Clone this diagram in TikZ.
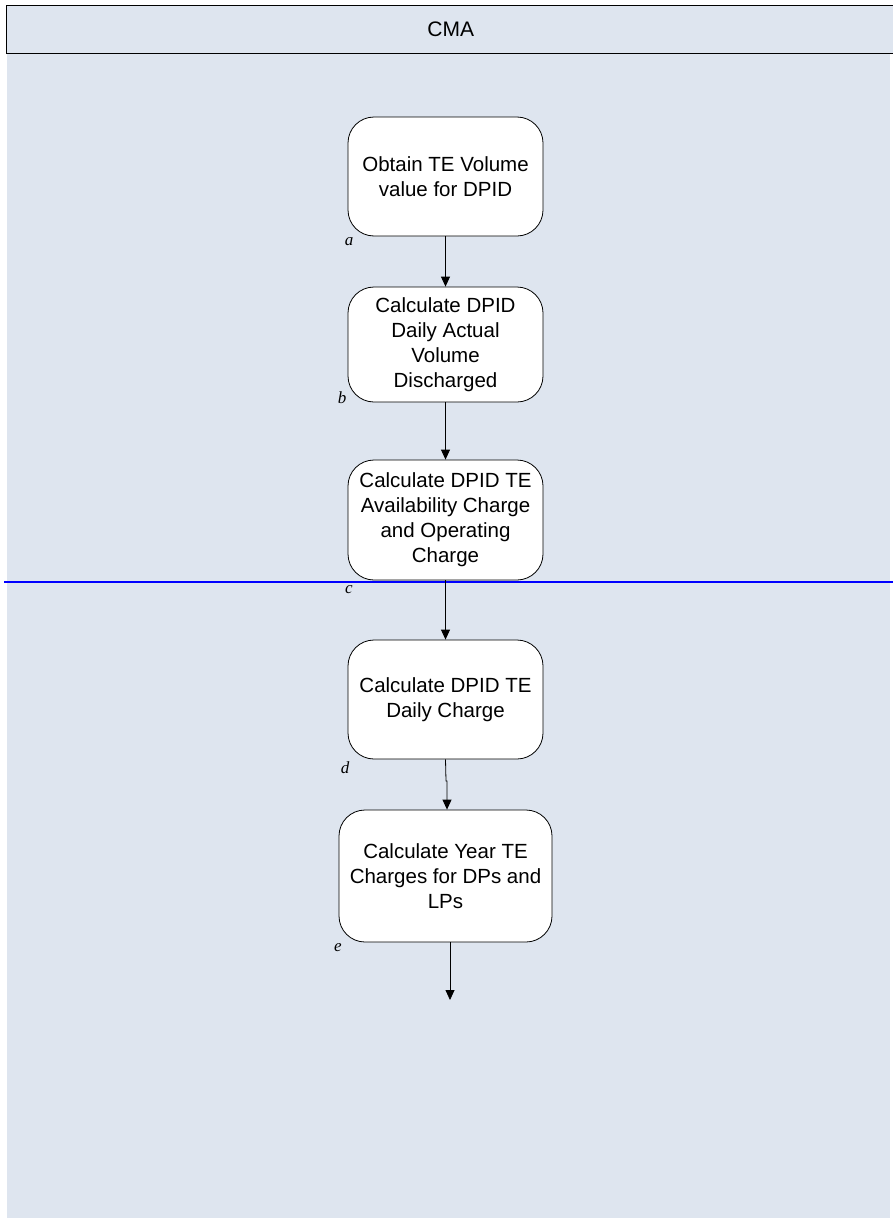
\documentclass[tikz,border=0pt]{standalone}
\usepackage{fontspec}
\setmainfont{Liberation Sans}
\newfontfamily\lblfont{Liberation Serif}
\usetikzlibrary{arrows.meta}
\definecolor{lanebg}{RGB}{222,229,239}
\definecolor{sepblue}{RGB}{0,0,255}
\begin{document}
\begin{tikzpicture}[x=1pt,y=-1pt,
  stepbox/.style={draw=black, line width=0.8pt, fill=white, rounded corners=26pt,
    align=center, inner sep=0pt, font=\fontsize{20.5}{25}\selectfont},
  arr/.style={draw=black, line width=0.8pt, -{Triangle[length=10pt,width=9pt]}},
  lbl/.style={font=\lblfont\itshape\fontsize{17}{20}\selectfont, inner sep=0pt}]
\useasboundingbox (0,0) rectangle (893,1218);
% swimlane background
\fill[lanebg] (7,5) rectangle (890,1218);
% header
\node[draw=black, line width=1.4pt, fill=lanebg, minimum width=888pt, minimum height=48pt,
  inner sep=0pt, anchor=north west, font=\fontsize{21}{25}\selectfont] (hdr) at (6,5) {CMA};
% separator
\draw[sepblue, line width=1.6pt] (4,582) -- (893,582);
% steps
\node[stepbox, minimum width=195pt, minimum height=119pt] (a) at (445.5,176.5)
  {Obtain TE Volume\\value for DPID};
\node[stepbox, minimum width=195pt, minimum height=115pt] (b) at (445.5,344.5)
  {Calculate DPID\\Daily Actual\\Volume\\Discharged};
\node[stepbox, minimum width=195pt, minimum height=120pt] (c) at (445.5,520)
  {Calculate DPID TE\\Availability Charge\\and Operating\\Charge};
\node[stepbox, minimum width=195pt, minimum height=119pt] (d) at (445.5,699.5)
  {Calculate DPID TE\\Daily Charge};
\node[stepbox, minimum width=213pt, minimum height=132pt] (e) at (445.5,876)
  {Calculate Year TE\\Charges for DPs and\\LPs};
% labels
\node[lbl] (la) at (349,242) {a};
\node[lbl] (lb) at (342,398) {b};
\node[lbl] (lc) at (349,590) {c};
\node[lbl] (ld) at (345,768) {d};
\node[lbl] (le) at (338,948) {e};
% connectors
\draw[arr] (a) -- (b);
\draw[arr] (b) -- (c);
\draw[arr] (c) -- (d);
\coordinate (dj) at (446,781);
\draw[arr] (d.south) -- (dj) -- ++(1,0) -- (e.north -| 447,0);
\coordinate (eend) at (450,1000);
\draw[arr] (e.south -| eend) -- (eend);
\end{tikzpicture}
\end{document}
